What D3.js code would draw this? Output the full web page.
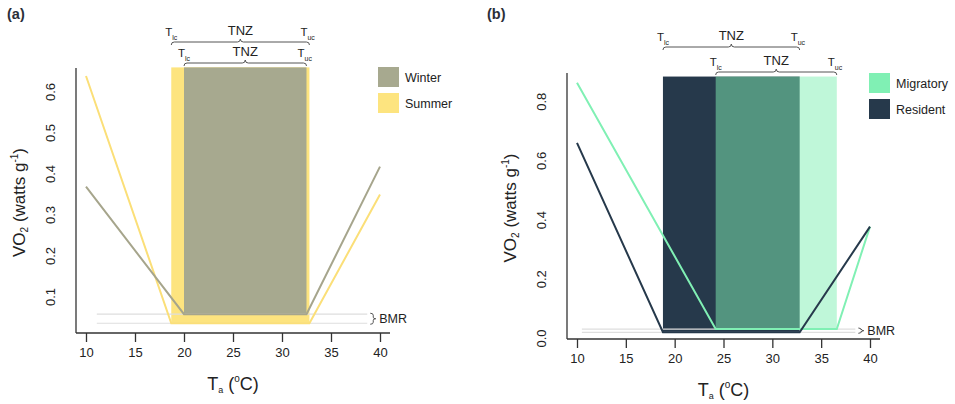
<!DOCTYPE html>
<html>
<head>
<meta charset="utf-8">
<script src="https://cdn.jsdelivr.net/npm/d3@7"></script>
<style>
  html, body { margin: 0; padding: 0; background: #fff; }
  svg { display: block; font-family: "Liberation Sans", Arial, sans-serif; }
</style>
</head>
<body>
<svg id="chart" width="955" height="404"></svg>
<script>
// Ambient temperature ticks (°C)
const tempTicks = [10, 15, 20, 25, 30, 35, 40];
// VO2 ticks for each panel
const vo2TicksA = [0.1, 0.2, 0.3, 0.4, 0.5, 0.6];
const vo2TicksB = [0.0, 0.2, 0.4, 0.6, 0.8];

// Metabolic curves: [Ta, VO2]; points 2 and 3 are T_lc and T_uc at BMR
const summerCurve    = [[10, 0.639], [18.7, 0.036], [32.8, 0.036], [40, 0.350]];
const winterCurve    = [[10, 0.369], [20.0, 0.058], [32.5, 0.058], [40, 0.418]];
const residentCurve  = [[10, 0.661], [18.8, 0.021], [32.8, 0.021], [40, 0.378]];
const migratoryCurve = [[10, 0.864], [24.2, 0.032], [36.6, 0.032], [40, 0.378]];

// Legend entries
const legendA = ["Winter", "Summer"];
const legendB = ["Migratory", "Resident"];

const svg = d3.select("#chart");
const ink = "#222";

function brace(g, x1, x2, y) {
  const m = (x1 + x2) / 2;
  g.append("path")
    .attr("d", `M${x1},${y + 3} Q${x1},${y} ${x1 + 3},${y} L${m - 3},${y} Q${m},${y} ${m},${y - 3} Q${m},${y} ${m + 3},${y} L${x2 - 3},${y} Q${x2},${y} ${x2},${y + 3}`)
    .attr("fill", "none").attr("stroke", "#555").attr("stroke-width", 1);
}

function subText(g, x, y, main, sub, size, subSize, anchor) {
  const t = g.append("text").attr("x", x).attr("y", y)
    .attr("font-size", size).attr("fill", ink).attr("text-anchor", anchor || "start");
  t.append("tspan").text(main);
  t.append("tspan").attr("font-size", subSize).attr("dy", size * 0.35).text(sub);
  return t;
}

function drawPanel(p) {
  const g = svg.append("g");
  const x = d3.scaleLinear().domain([10, 40]).range(p.xRange);
  const y = d3.scaleLinear().domain(p.yDomain).range(p.yRange);

  // thermoneutral zones
  p.zones.forEach(z => {
    g.append("rect")
      .attr("x", x(z.curve[1][0]))
      .attr("width", x(z.curve[2][0]) - x(z.curve[1][0]))
      .attr("y", y(p.zoneTop))
      .attr("height", y(z.curve[1][1]) - y(p.zoneTop))
      .attr("fill", z.color).attr("fill-opacity", z.opacity);
  });

  // BMR guide lines
  p.zones.forEach(z => {
    g.append("line")
      .attr("x1", x(p.bmrFrom)).attr("x2", x(p.bmrTo))
      .attr("y1", y(z.curve[1][1])).attr("y2", y(z.curve[1][1]))
      .attr("stroke", "#dedede").attr("stroke-width", 1.2);
  });

  // metabolic curves
  const line = d3.line().x(d => x(d[0])).y(d => y(d[1]));
  p.curves.forEach(c => {
    g.append("path").datum(c.curve).attr("d", line)
      .attr("fill", "none").attr("stroke", c.color).attr("stroke-width", 2);
  });

  // BMR brace + label
  const bTop = y(d3.max(p.zones, z => z.curve[1][1])) - 1;
  const bBot = y(d3.min(p.zones, z => z.curve[1][1])) + 1;
  const bx = x(p.bmrTo) + 3, bm = (bTop + bBot) / 2;
  g.append("path")
    .attr("d", `M${bx},${bTop} Q${bx + 3},${bTop} ${bx + 3},${bTop + 2} L${bx + 3},${bm - 1.5} Q${bx + 3},${bm} ${bx + 5.5},${bm} Q${bx + 3},${bm} ${bx + 3},${bm + 1.5} L${bx + 3},${bBot - 2} Q${bx + 3},${bBot} ${bx},${bBot}`)
    .attr("fill", "none").attr("stroke", "#555").attr("stroke-width", 1);
  g.append("text").attr("x", bx + 9).attr("y", bm + 4.5)
    .attr("font-size", 12.5).attr("fill", ink).text("BMR");

  // axes (L-shaped frame)
  const ax = p.xRange[0] - 10, ay = p.axisY;
  g.append("line").attr("x1", ax).attr("x2", ax).attr("y1", p.axisTop).attr("y2", ay)
    .attr("stroke", "#333").attr("stroke-width", 1.3);
  const xAxis = g.append("g").attr("transform", `translate(0,${ay})`)
    .call(d3.axisBottom(x).tickValues(tempTicks).tickSize(9).tickPadding(6).tickSizeOuter(0));
  xAxis.select(".domain").remove();
  xAxis.selectAll(".tick line").attr("stroke", "#333").attr("stroke-width", 1.3);
  xAxis.selectAll(".tick text").attr("font-size", 13).attr("fill", ink)
    .attr("font-family", "Liberation Sans, Arial, sans-serif");
  g.append("line").attr("x1", ax).attr("x2", p.xRange[1] + 10).attr("y1", ay).attr("y2", ay)
    .attr("stroke", "#333").attr("stroke-width", 1.3);

  // y tick labels (rotated, no tick marks)
  p.yTicks.forEach(v => {
    g.append("text")
      .attr("transform", `translate(${ax - 21},${y(v)}) rotate(-90)`)
      .attr("text-anchor", "middle").attr("font-size", 13).attr("fill", ink)
      .text(d3.format(".1f")(v));
  });

  // axis titles
  const yt = g.append("text")
    .attr("transform", `translate(${ax - 51},${(p.axisTop + ay) / 2 + 2}) rotate(-90)`)
    .attr("text-anchor", "middle").attr("font-size", 17).attr("fill", ink);
  yt.append("tspan").text("VO");
  yt.append("tspan").attr("font-size", 10).attr("dy", 3).text("2");
  yt.append("tspan").attr("dy", -3).text(" (watts g");
  yt.append("tspan").attr("font-size", 10).attr("dy", -7).text("-1");
  yt.append("tspan").attr("dy", 7).text(")");

  const xt = g.append("text")
    .attr("x", (p.xRange[0] + p.xRange[1]) / 2).attr("y", ay + 57)
    .attr("text-anchor", "middle").attr("font-size", 18).attr("fill", ink);
  xt.append("tspan").text("T");
  xt.append("tspan").attr("font-size", 9).attr("dy", 3).text("a");
  xt.append("tspan").attr("dy", -3).text(" (");
  xt.append("tspan").attr("font-size", 10).attr("dy", -8).text("o");
  xt.append("tspan").attr("dy", 8).text("C)");

  // TNZ brackets above the plot
  p.brackets.forEach(b => {
    const x1 = x(b.curve[1][0]), x2 = x(b.curve[2][0]);
    brace(g, x1, x2, b.y);
    g.append("text").attr("x", (x1 + x2) / 2).attr("y", b.y - 7)
      .attr("text-anchor", "middle").attr("font-size", 13).attr("fill", ink).text("TNZ");
    subText(g, x1 - 6, b.y - 6, "T", "lc", 11.5, 7);
    subText(g, x2 - 9, b.y - 6, "T", "uc", 11.5, 7);
  });

  // legend
  p.legend.forEach((name, i) => {
    const c = p.legendColors[i];
    g.append("rect").attr("x", p.legendX).attr("y", p.legendY + i * 26)
      .attr("width", 21).attr("height", 20).attr("fill", c);
    g.append("text").attr("x", p.legendX + 27).attr("y", p.legendY + i * 26 + 14.5)
      .attr("font-size", 12.5).attr("fill", ink).text(name);
  });

  // panel tag
  svg.append("text").attr("x", p.tagX).attr("y", 19)
    .attr("font-size", 14.5).attr("font-weight", "bold").attr("fill", "#2a2f38").text(p.tag);
}

const summerCol = "#fde47f", winterCol = "#a7a98f";
const residentCol = "#26394b", migratoryCol = "#80f0b4";

drawPanel({
  tag: "(a)", tagX: 7,
  xRange: [86, 380], yDomain: [0, 0.66], yRange: [338, 67.4],
  axisY: 333, axisTop: 68, zoneTop: 0.66, yTicks: vo2TicksA,
  bmrFrom: 11.1, bmrTo: 38.7,
  zones: [
    { curve: summerCurve, color: summerCol, opacity: 1 },
    { curve: winterCurve, color: winterCol, opacity: 1 }
  ],
  curves: [
    { curve: summerCurve, color: "#fbdf78" },
    { curve: winterCurve, color: "#a6a58c" }
  ],
  brackets: [
    { curve: summerCurve, y: 42 },
    { curve: winterCurve, y: 63 }
  ],
  legend: legendA, legendColors: [winterCol, summerCol],
  legendX: 378, legendY: 67
});

drawPanel({
  tag: "(b)", tagX: 487,
  xRange: [577, 870], yDomain: [0, 0.897], yRange: [338.5, 73],
  axisY: 339, axisTop: 73, zoneTop: 0.885, yTicks: vo2TicksB,
  bmrFrom: 10.5, bmrTo: 38.5,
  zones: [
    { curve: residentCurve, color: residentCol, opacity: 1 },
    { curve: migratoryCurve, color: migratoryCol, opacity: 0.5 }
  ],
  curves: [
    { curve: migratoryCurve, color: migratoryCol },
    { curve: residentCurve, color: residentCol }
  ],
  brackets: [
    { curve: residentCurve, y: 47 },
    { curve: migratoryCurve, y: 72 }
  ],
  legend: legendB, legendColors: [migratoryCol, residentCol],
  legendX: 869, legendY: 73
});
</script>
</body>
</html>
